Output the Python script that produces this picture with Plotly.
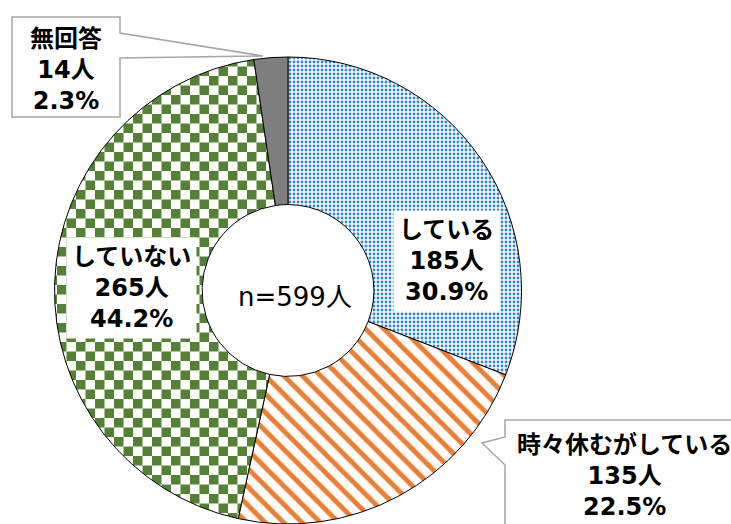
import plotly.graph_objects as go

# ---- data ----
categories = ["している", "時々休むがしている", "していない", "無回答"]
counts = [185, 135, 265, 14]
colors = ["#2E86D6", "#ED7D31", "#548235", "#7F7F7F"]
total_label = "n=599人"

W, H = 731, 524
total = sum(counts)
pcts = [round(c / total * 100, 1) for c in counts]
labels_txt = [f"{n}<br>{c}人<br>{p:.1f}%" for n, c, p in zip(categories, counts, pcts)]

def px(x):
    return x / W

def py(y):
    return 1 - y / H

# pie geometry (pixels)
cx, cy, R = 288, 290.5, 233.5

fig = go.Figure(go.Pie(
    labels=categories,
    values=counts,
    sort=False,
    direction="clockwise",
    rotation=0,
    hole=0.368,
    textinfo="none",
    hoverinfo="label+value+percent",
    marker=dict(
        colors=colors,
        line=dict(color="#000000", width=1),
        pattern=dict(
            shape=[".", "\\", "+", ""],
            fgcolor=colors,
            bgcolor=["#FFFFFF", "#FFFFFF", "#FFFFFF", "#7F7F7F"],
            size=[4, 13, 19, 8],
            solidity=[0.4, 0.38, 0.5, 0.3],
            fillmode="replace",
        ),
    ),
    domain=dict(x=[px(cx - R), px(cx + R)], y=[py(cy + R), py(cy - R)]),
    showlegend=False,
))

FONT = "DejaVu Sans, Noto Sans CJK JP, sans-serif"
lab_font = dict(family=FONT, size=24, color="#000000", weight="bold")

shapes = [
    # callout for 無回答
    dict(type="path", xref="paper", yref="paper",
         path=" ".join([
             f"M {px(12)} {py(17)}", f"L {px(120)} {py(17)}", f"L {px(120)} {py(33)}",
             f"L {px(263)} {py(56)}", f"L {px(120)} {py(58)}", f"L {px(120)} {py(117)}",
             f"L {px(12)} {py(117)}", "Z"]),
         fillcolor="#FFFFFF", line=dict(color="#A6A6A6", width=1.5), layer="above"),
    # callout for 時々休むがしている
    dict(type="path", xref="paper", yref="paper",
         path=" ".join([
             f"M {px(505)} {py(420)}", f"L {px(745)} {py(420)}", f"L {px(745)} {py(540)}",
             f"L {px(505)} {py(540)}", f"L {px(505)} {py(465)}", f"L {px(482)} {py(443)}",
             f"L {px(505)} {py(437)}", "Z"]),
         fillcolor="#FFFFFF", line=dict(color="#A6A6A6", width=1.5), layer="above"),
]

annotations = [
    dict(x=px(446), y=py(261), text=labels_txt[0], bgcolor="#FFFFFF", borderpad=5),
    dict(x=px(624), y=py(476), text=labels_txt[1]),
    dict(x=px(131), y=py(288), text=labels_txt[2], bgcolor="#FFFFFF", borderpad=5),
    dict(x=px(66), y=py(70), text=labels_txt[3]),
]
for a in annotations:
    a.update(xref="paper", yref="paper", showarrow=False, xanchor="center",
             yanchor="middle", align="center", font=lab_font)
annotations.append(dict(x=px(295), y=py(297), xref="paper", yref="paper", showarrow=False,
                        text=total_label, xanchor="center", yanchor="middle",
                        font=dict(family=FONT, size=26, color="#000000")))

fig.update_layout(
    width=W, height=H,
    margin=dict(l=0, r=0, t=0, b=0),
    paper_bgcolor="#FFFFFF", plot_bgcolor="#FFFFFF",
    shapes=shapes,
    annotations=annotations,
)

post_js = """
(function(){
  document.body.style.margin = '0';
  document.body.style.padding = '0';
  var gd = document.getElementById('{plot_id}');
  function apply(){
    try {
      var paths = gd.querySelectorAll('g.slice path.surface');
      if (paths.length < 3) return;
      var p = paths[2];
      var fill = p.style.fill || p.getAttribute('fill') || '';
      var m = fill.match(/#([^"')]+)/);
      if (!m) return;
      var pat = document.getElementById(m[1]);
      if (!pat || pat.getAttribute('data-checker')) return;
      var s = 19, h = 9.5, c = '#548235';
      pat.setAttribute('width', s); pat.setAttribute('height', s);
      pat.setAttribute('data-checker', '1');
      pat.innerHTML = '<rect x="0" y="0" width="'+s+'" height="'+s+'" fill="#FFFFFF"></rect>' +
        '<rect x="0" y="0" width="'+h+'" height="'+h+'" fill="'+c+'"></rect>' +
        '<rect x="'+h+'" y="'+h+'" width="'+h+'" height="'+h+'" fill="'+c+'"></rect>';
    } catch(e) {}
  }
  apply();
  if (gd.on) gd.on('plotly_afterplot', apply);
  setTimeout(apply, 0); setTimeout(apply, 100);
})();
"""

fig.write_html("out.html", post_script=post_js, config={"displayModeBar": False})
